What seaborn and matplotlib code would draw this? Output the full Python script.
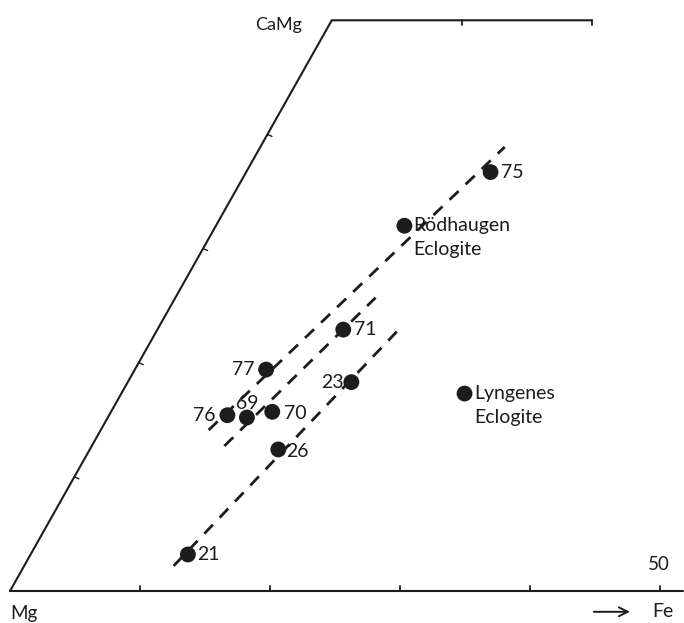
import matplotlib
matplotlib.use('Agg')
import matplotlib.pyplot as plt
import pandas as pd
import seaborn as sns

# sample points (mol % Ca and Fe)
samples = ['75', 'Rödhaugen\nEclogite', '71', '77', '23', 'Lyngenes\nEclogite',
           '76', '69', '70', '26', '21']
ca = [36.7, 32.0, 22.9, 19.4, 18.3, 17.3, 15.4, 15.2, 15.7, 12.4, 3.2]
fe = [18.8, 14.5, 14.3, 10.1, 17.2, 26.4, 9.1, 10.7, 12.4, 14.5, 12.1]

# dashed trend lines, (start, end)
trend_fe = [[8.3, 18.8], [10.2, 15.4], [11.5, 18.7]]
trend_ca = [[14.1, 38.9], [12.7, 25.7], [2.2, 23.3]]

fe_ticks = [10, 20, 30, 40, 50]
ca_ticks = [10, 20, 30, 40]

# skew of the drawn triangle (a bit off a true ternary)
SKEW_X = 0.495
SKEW_Y = 0.878


def to_xy(f, c):
    return f + SKEW_X * c, SKEW_Y * c


# label offsets in pixels (dx, dy, ha)
offsets = {
    '75': (10, 0, 'left'), 'Rödhaugen\nEclogite': (9, 0, 'left'),
    '71': (11, 0, 'left'), '77': (-12, 0, 'right'), '23': (-8, 0, 'right'),
    'Lyngenes\nEclogite': (10, 0, 'left'), '76': (-12, 0, 'right'),
    '69': (0, 14, 'center'), '70': (12, -2, 'left'), '26': (8, -2, 'left'),
    '21': (9, 0, 'left'),
}

sns.set_style('white')
plt.rcParams['font.family'] = ['Lato', 'DejaVu Sans']
plt.rcParams['lines.scale_dashes'] = False
ink = '#1c1c1c'

fig = plt.figure(figsize=(6.84, 6.23), dpi=100)
ax = fig.add_axes([0, 0, 1, 1])
ax.set_xlim(-10 / 13, 674 / 13)
ax.set_ylim(-32 / 13, 591 / 13)
ax.axis('off')

# frame of the diagram
x0, y0 = to_xy(0, 0)
xc, yc = to_xy(0, 50)
xt, yt = to_xy(20, 50)
ax.plot([x0, 51.8], [y0, y0], color=ink, lw=1.5)
ax.plot([x0, xc, xt], [y0, yc, yt], color=ink, lw=1.5, solid_joinstyle='miter')
for t in fe_ticks:
    ax.plot([t, t], [0, 0.4], color=ink, lw=1.3)
for t in [10, 20]:
    x, y = to_xy(t, 50)
    ax.plot([x, x], [y, y - 0.35], color=ink, lw=1.3)
for t in ca_ticks:
    x, y = to_xy(0, t)
    ax.plot([x, x + 0.35], [y, y - 0.15], color=ink, lw=1.0)

# dashed trends
for tf, tc in zip(trend_fe, trend_ca):
    lx, ly = to_xy(pd.Series(tf), pd.Series(tc))
    line_df = pd.DataFrame({'x': lx, 'y': ly})
    sns.lineplot(data=line_df, x='x', y='y', sort=False, color=ink, lw=2.0,
                 ax=ax, dashes=False)
    ax.lines[-1].set_dashes((9, 7))

# points
px, py = to_xy(pd.Series(fe), pd.Series(ca))
df = pd.DataFrame({'sample': samples, 'x': px, 'y': py})
sns.scatterplot(data=df, x='x', y='y', s=130, color=ink, edgecolor='none',
                ax=ax, legend=False, zorder=3)

for _, row in df.iterrows():
    dx, dy, ha = offsets[row['sample']]
    parts = row['sample'].split('\n')
    for k, part in enumerate(parts):
        ax.annotate(part, (row['x'], row['y']), xytext=(dx, dy - 24 * k),
                    textcoords='offset pixels', ha=ha, va='center',
                    fontsize=14, color=ink)

# corner and axis labels
ax.text(xc - 2.3, yc - 0.35, 'CaMg', ha='right', va='center', fontsize=13, color=ink)
ax.text(0, -1.75, 'Mg', ha='left', va='center', fontsize=13.5, color=ink)
ax.text(49.9, 2.0, '50', ha='center', va='center', fontsize=13.5, color=ink)
ax.text(49.4, -1.6, 'Fe', ha='left', va='center', fontsize=14, color=ink)
ax.annotate('', xy=(47.9, -1.6), xytext=(44.7, -1.6),
            arrowprops=dict(arrowstyle='->', color=ink, lw=1.4, mutation_scale=16))

fig.savefig('out.png', dpi=100)
